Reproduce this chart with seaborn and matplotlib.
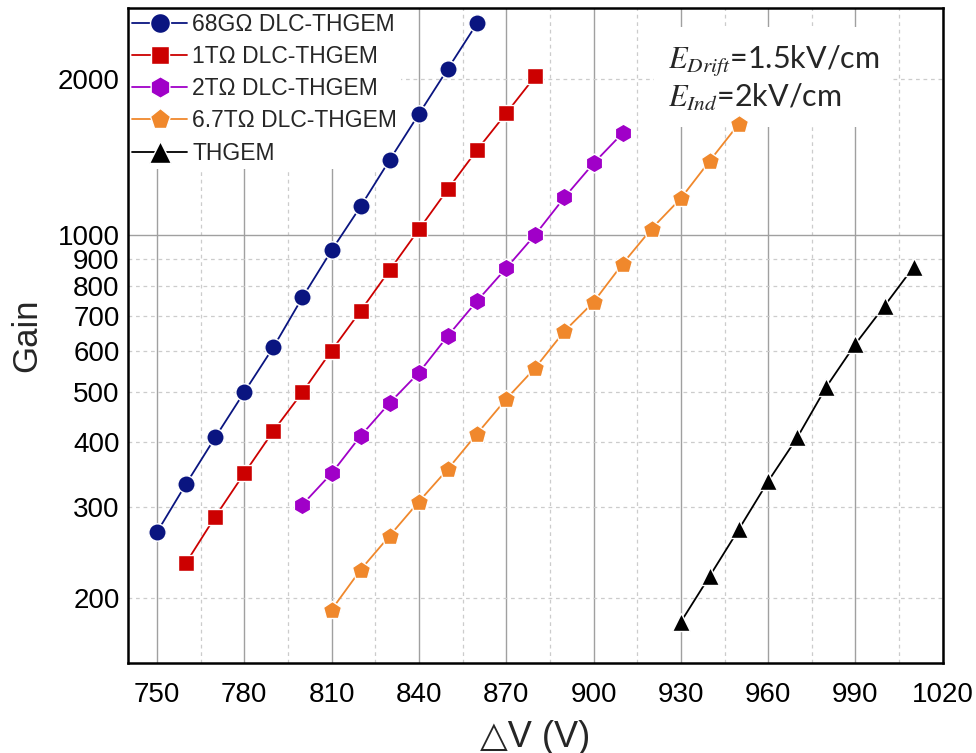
import numpy as np
import pandas as pd
import matplotlib
matplotlib.use("Agg")
import matplotlib.pyplot as plt
import matplotlib.ticker as mticker
import seaborn as sns

# данные
v_68g = [750, 760, 770, 780, 790, 800, 810, 820, 830, 840, 850, 860]
gain_68g = [268, 332, 408, 499, 609, 760, 936, 1138, 1399, 1714, 2097, 2564]

v_1t = [760, 770, 780, 790, 800, 810, 820, 830, 840, 850, 860, 870, 880]
gain_1t = [234, 287, 348, 420, 499, 600, 716, 858, 1027, 1229, 1462, 1720, 2027]

v_2t = [800, 810, 820, 830, 840, 850, 860, 870, 880, 890, 900, 910]
gain_2t = [303, 348, 411, 476, 544, 641, 748, 865, 1004, 1184, 1377, 1575]

v_67t = [810, 820, 830, 840, 850, 860, 870, 880, 890, 900, 910, 920, 930, 940, 950]
gain_67t = [190, 227, 264, 307, 355, 415, 484, 556, 654, 744, 882, 1031, 1179, 1394, 1643]

v_thgem = [930, 940, 950, 960, 970, 980, 990, 1000, 1010]
gain_thgem = [180, 221, 272, 336, 408, 511, 618, 732, 870]

labels = ["68GΩ DLC-THGEM", "1TΩ DLC-THGEM", "2TΩ DLC-THGEM", "6.7TΩ DLC-THGEM", "THGEM"]
colors = ["#0A1580", "#CC0000", "#A000C8", "#F0882C", "#000000"]
markers = ["o", "s", "h", "p", "^"]
msizes = [12.5, 11, 13.5, 13.5, 13.5]
x_ticks = [750, 780, 810, 840, 870, 900, 930, 960, 990, 1020]
y_ticks = [200, 300, 400, 500, 600, 700, 800, 900, 1000, 2000]

series = [(v_68g, gain_68g), (v_1t, gain_1t), (v_2t, gain_2t), (v_67t, gain_67t), (v_thgem, gain_thgem)]

sns.set_style("white")
plt.rcParams['font.family'] = ['Liberation Sans', 'DejaVu Sans']
plt.rcParams['mathtext.fontset'] = 'stix'

fig = plt.figure(figsize=(9.76, 7.53), dpi=100)
ax = fig.add_axes([0.131, 0.1195, 0.835, 0.8695])

for (xs, ys), lab, col, mk, ms in zip(series, labels, colors, markers, msizes):
    df = pd.DataFrame({"dv": xs, "gain": ys})
    sns.lineplot(data=df, x="dv", y="gain", ax=ax, color=col, marker=mk,
                 markersize=ms, markeredgecolor="white", markeredgewidth=1.0,
                 linewidth=1.3, label=lab, zorder=3)

ax.set_yscale("log")
ax.set_xlim(740, 1020)
ax.set_ylim(150, 2740)

ax.set_xticks(x_ticks)
ax.xaxis.set_minor_locator(mticker.MultipleLocator(10))
ax.yaxis.set_major_locator(mticker.FixedLocator([1000]))
ax.yaxis.set_minor_locator(mticker.FixedLocator([t for t in y_ticks if t != 1000]))
ax.yaxis.set_major_formatter(mticker.FuncFormatter(lambda v, p: f"{v:.0f}"))
ax.yaxis.set_minor_formatter(mticker.FuncFormatter(lambda v, p: f"{v:.0f}"))

# сетка: сплошные основные линии, пунктир между ними
ax.grid(True, which="major", axis="both", color="#a0a0a0", linewidth=1.0, linestyle="-")
ax.grid(True, which="minor", axis="y", color="#cccccc", linewidth=0.9, linestyle=(0, (3, 3)))
for xm in np.arange(765, 1020, 30):
    ax.axvline(xm, color="#cccccc", linewidth=0.9, linestyle=(0, (3, 3)), zorder=0.5)
ax.set_axisbelow(True)

ax.tick_params(axis="both", which="both", direction="in", colors="black", labelsize=20)
ax.tick_params(axis="both", which="major", length=7, width=1.2)
ax.tick_params(axis="y", which="minor", length=4, width=1.0)
ax.tick_params(axis="x", which="minor", length=6, width=1.0)
ax.tick_params(axis="x", pad=14)
ax.tick_params(axis="y", which="both", pad=6)

for sp in ax.spines.values():
    sp.set_color("black")
    sp.set_linewidth(1.8)

ax.set_xlabel("△V (V)", fontsize=26, labelpad=8)
ax.set_ylabel("Gain", fontsize=25, labelpad=10)

leg = ax.legend(loc="upper left", fontsize=16.5, frameon=True, framealpha=1,
                facecolor="white", edgecolor="none", borderaxespad=0.0, markerscale=1.15,
                handlelength=2.4, labelspacing=0.4, borderpad=0.2, handletextpad=0.2)
leg.get_frame().set_boxstyle("square", pad=0)
leg.set_zorder(2)

ax.text(0.663, 0.945, "$E_{Drift}$=1.5kV/cm\n$E_{Ind}$=2kV/cm", transform=ax.transAxes,
        fontsize=22, va="top", ha="left", linespacing=1.12,
        family=['Lato', 'DejaVu Sans'], zorder=2,
        bbox=dict(facecolor="white", edgecolor="none", pad=10))

plt.savefig("out.png", dpi=100)
